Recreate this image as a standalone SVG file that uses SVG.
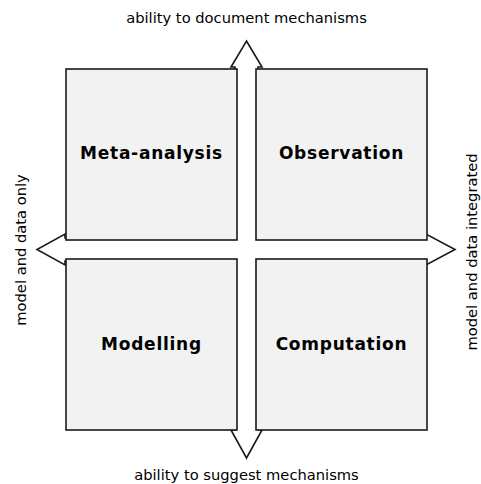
<svg xmlns="http://www.w3.org/2000/svg" width="481" height="484" viewBox="0 0 481 484">
<style>
.box{fill:#f2f2f2;stroke:#1a1a1a;stroke-width:1.6}
.lbl{font-family:"DejaVu Sans",sans-serif;font-size:17px;font-weight:bold;letter-spacing:0.75px;fill:#000;text-anchor:middle}
.ax{font-family:"DejaVu Sans",sans-serif;font-size:14.7px;fill:#000;text-anchor:middle}
.arrow{fill:#fff;stroke:#1a1a1a;stroke-width:1.6;stroke-linejoin:miter}
</style>
<rect width="481" height="484" fill="#fff"/>
<g id="connectors">
<polygon class="arrow" points="246.5,41 262,67 258,67 258,238 426,238 426,234 455,249.5 426,265 426,261 258,261 258,430 262,430 246.5,458 231,430 235,430 235,261 65,261 65,265 37,249.5 65,234 65,238 235,238 235,67 231,67"/>
</g>
<g id="meta-analysis">
<rect class="box" x="66" y="69" width="171" height="171"/>
<text class="lbl" x="151.5" y="159">Meta-analysis</text>
</g>
<g id="observation">
<rect class="box" x="256" y="69" width="171" height="171"/>
<text class="lbl" x="341.5" y="159">Observation</text>
</g>
<g id="modelling">
<rect class="box" x="66" y="259" width="171" height="171"/>
<text class="lbl" x="151.5" y="350">Modelling</text>
</g>
<g id="computation">
<rect class="box" x="256" y="259" width="171" height="171"/>
<text class="lbl" x="341.5" y="350">Computation</text>
</g>
<g id="axis-labels">
<text class="ax" x="246.5" y="23">ability to document mechanisms</text>
<text class="ax" x="246.5" y="480">ability to suggest mechanisms</text>
<text class="ax" transform="translate(25.5,250) rotate(-90)">model and data only</text>
<text class="ax" transform="translate(476.5,252) rotate(-90)">model and data integrated</text>
</g>
</svg>
